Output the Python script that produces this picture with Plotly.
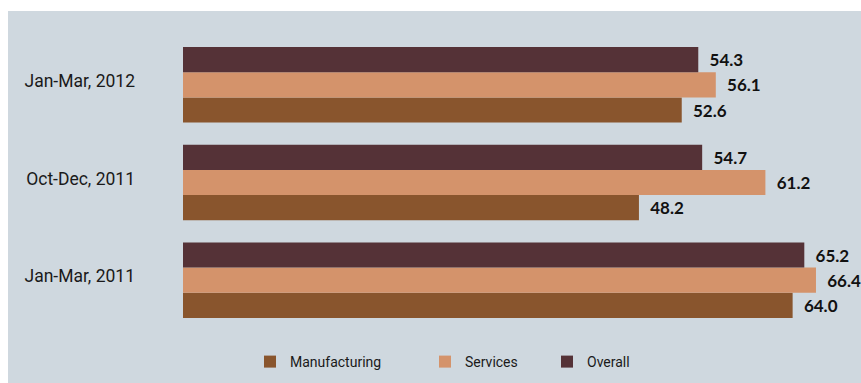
import plotly.graph_objects as go

categories = ["Jan-Mar, 2011", "Oct-Dec, 2011", "Jan-Mar, 2012"]
manufacturing = [64.0, 48.2, 52.6]
services = [66.4, 61.2, 56.1]
overall = [65.2, 54.7, 54.3]

series = [
    ("Manufacturing", manufacturing, "#89552D", "legend"),
    ("Services", services, "#D4936B", "legend2"),
    ("Overall", overall, "#553237", "legend3"),
]

W, H = 861, 383
L, R, T, B = 183, 10, 11, 10
pw, ph = W - L - R, H - T - B
AX_TOP, AX_BOT = 36, 329

def px_x(p):
    return (p - L) / pw

def px_y(p):
    return (H - B - p) / ph

fig = go.Figure()
for name, vals, color, lg in series:
    fig.add_trace(go.Bar(
        y=categories, x=vals, name=name, orientation="h",
        marker=dict(color=color, line=dict(width=0)),
        texttemplate="\u00a0\u00a0%{x:.1f}", textposition="outside",
        textfont=dict(family="Lato", size=17, color="#111111", weight="bold"),
        constraintext="none", cliponaxis=False, legend=lg,
        hoverinfo="skip",
    ))

panel = "#CFD8DF"
fig.add_shape(type="rect", xref="paper", yref="paper",
              x0=px_x(8), x1=px_x(W + 20), y0=px_y(H + 20), y1=px_y(11),
              fillcolor=panel, line=dict(width=0), layer="below")

legfont = dict(family="Roboto, sans-serif", size=14, color="#1a1a1a")
def leg(xpx):
    return dict(x=px_x(xpx), y=px_y(362), xanchor="left", yanchor="middle",
                orientation="h", bgcolor="rgba(0,0,0,0)", borderwidth=0,
                font=legfont, itemclick=False, itemdoubleclick=False)

fig.update_layout(
    width=W, height=H,
    margin=dict(l=L, r=R, t=T, b=B, pad=0, autoexpand=False),
    paper_bgcolor="white", plot_bgcolor="rgba(0,0,0,0)",
    barmode="group", bargap=0.227, bargroupgap=0,
    showlegend=True,
    legend=leg(250), legend2=leg(425), legend3=leg(547),
    xaxis=dict(range=[1.33, 70], visible=False, fixedrange=True),
    yaxis=dict(domain=[px_y(AX_BOT), px_y(AX_TOP)],
               showgrid=False, showline=False, zeroline=False, ticks="",
               ticklabelstandoff=47, ticklabelshift=-4,
               tickfont=dict(family="Roboto, sans-serif", size=17.5, color="#1a1a1a"),
               fixedrange=True),
)

fig.write_html("out.html")
